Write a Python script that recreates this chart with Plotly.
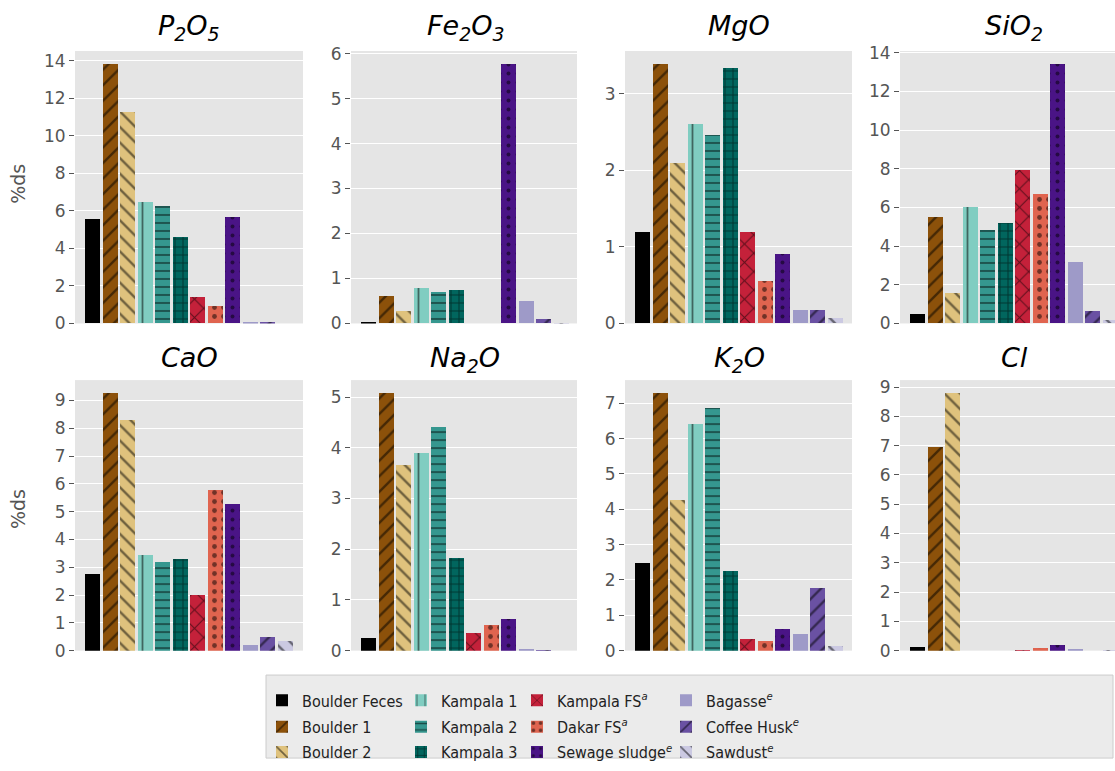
import plotly.graph_objects as go

W, H = 1115, 771

categories = ["Boulder Feces", "Boulder 1", "Boulder 2", "Kampala 1", "Kampala 2", "Kampala 3",
              "Kampala FS<sup><i>a</i></sup>", "Dakar FS<sup><i>a</i></sup>",
              "Sewage sludge<sup><i>e</i></sup>", "Bagasse<sup><i>e</i></sup>",
              "Coffee Husk<sup><i>e</i></sup>", "Sawdust<sup><i>e</i></sup>"]

panel_titles = ["P<sub>2</sub>O<sub>5</sub>", "Fe<sub>2</sub>O<sub>3</sub>", "MgO", "SiO<sub>2</sub>",
                "CaO", "Na<sub>2</sub>O", "K<sub>2</sub>O", "Cl"]

P2O5 = [5.55, 13.84, 11.27, 6.49, 6.28, 4.61, 1.41, 0.92, 5.70, 0.09, 0.10, 0.0]
Fe2O3 = [0.04, 0.62, 0.28, 0.78, 0.71, 0.74, 0.0, 0.0, 5.77, 0.51, 0.09, 0.01]
MgO = [1.20, 3.39, 2.09, 2.60, 2.46, 3.34, 1.19, 0.55, 0.91, 0.18, 0.17, 0.07]
SiO2 = [0.47, 5.53, 1.60, 6.00, 4.81, 5.19, 7.93, 6.68, 13.42, 3.17, 0.67, 0.17]
CaO = [2.76, 9.27, 8.28, 3.43, 3.17, 3.28, 2.01, 5.76, 5.27, 0.21, 0.47, 0.33]
Na2O = [0.25, 5.08, 3.66, 3.90, 4.41, 1.82, 0.34, 0.51, 0.62, 0.04, 0.01, 0.0]
K2O = [2.47, 7.29, 4.26, 6.42, 6.86, 2.24, 0.34, 0.26, 0.61, 0.48, 1.77, 0.12]
Cl = [0.11, 6.95, 8.80, 0.0, 0.0, 0.0, 0.01, 0.09, 0.20, 0.02, 0.0, 0.01]

panels = [P2O5, Fe2O3, MgO, SiO2, CaO, Na2O, K2O, Cl]
ydticks = [2, 1, 1, 2, 1, 1, 1, 1]

colors = ["#000000", "#8c510a", "#dfc27d", "#80cdc1", "#35978f", "#01665e",
          "#c4213a", "#e0644f", "#4a1486", "#9e9ac8", "#6a51a3", "#cbc9e2"]
patterns = [("", 8, 0.1), ("/", 11, 0.22), ("\\", 11, 0.22), ("|", 15, 0.12),
            ("-", 8, 0.22), ("+", 8, 0.22), ("x", 13, 0.16), (".", 9, 0.22),
            (".", 9, 0.15), ("", 8, 0.1), ("/", 11, 0.22), ("\\", 11, 0.22)]

# layout geometry (pixels)
col_px = [(75, 303), (351, 577), (625, 852), (900, 1115)]
full_w = 228
row_px = [(44, 323), (381, 658)]
title_top = [0, 340]
ylabel_center = [180, 513]
xr0, xr1 = -1.0175, 12.0175
units = xr1 - xr0

fig = go.Figure()

leg_names = ["legend"] + ["legend%d" % (k + 1) for k in range(1, 12)]

for p, vals in enumerate(panels):
    r, c = divmod(p, 4)
    ax = "" if p == 0 else str(p + 1)
    for i, v in enumerate(vals):
        shape, size, sol = patterns[i]
        fig.add_trace(go.Bar(
            x=[i], y=[v], width=0.85, name=categories[i],
            marker=dict(color=colors[i], line=dict(width=0),
                        pattern=dict(shape=shape, fgcolor="black", size=size, solidity=sol)),
            xaxis="x" + ax, yaxis="y" + ax,
            legendgroup=categories[i], showlegend=(p == 0),
            legend=leg_names[i], hoverinfo="skip",
        ))
    x0, x1 = col_px[c]
    y0, y1 = row_px[r]
    w = x1 - x0
    xrange = [xr0, xr0 + units * w / full_w]
    fig.layout["xaxis" + ax] = dict(domain=[x0 / W, x1 / W], range=xrange, showticklabels=False,
                                    ticks="", showgrid=False, zeroline=False, anchor="y" + ax)
    fig.layout["yaxis" + ax] = dict(domain=[1 - y1 / H, 1 - y0 / H], range=[0, max(vals) * 1.05],
                                    dtick=ydticks[p], tick0=0, ticks="outside", ticklen=5,
                                    tickcolor="#555555", tickwidth=1,
                                    tickfont=dict(size=17, color="#555555"),
                                    gridcolor="white", gridwidth=1.3, zeroline=False,
                                    showline=False, anchor="x" + ax)
    cx = (x0 + x0 + full_w) / 2
    fig.add_annotation(text="<i>" + panel_titles[p] + "</i>", x=cx / W, y=1 - title_top[r] / H,
                       xref="paper", yref="paper", showarrow=False, xanchor="center",
                       yanchor="top", font=dict(size=27, color="black"))

for yc in ylabel_center:
    fig.add_annotation(text="%ds", x=18 / W, y=1 - yc / H, xref="paper", yref="paper",
                       showarrow=False, textangle=-90, xanchor="center", yanchor="middle",
                       font=dict(size=19, color="#555555"))

# legend box
fig.add_shape(type="rect", xref="paper", yref="paper", x0=266 / W, x1=1113 / W,
              y0=1 - 768 / H, y1=1 - 683 / H, fillcolor="#ebebeb",
              line=dict(color="#cccccc", width=1), layer="below")

text_starts = [303, 442, 558, 707]
row_centers = [700, 727, 753]
legs = {}
for i, name in enumerate(leg_names):
    col, row = divmod(i, 3)
    legs[name] = dict(bgcolor="rgba(0,0,0,0)",
                      font=dict(size=16, color="#222222",
                                family="DejaVu Sans Condensed, Liberation Sans Narrow, DejaVu Sans"),
                      yanchor="middle", xanchor="left", orientation="v",
                      x=(text_starts[col] - 41) / W, y=1 - (row_centers[row] + 9) / H)

fig.update_layout(width=W, height=H, margin=dict(l=0, r=0, t=0, b=0),
                  plot_bgcolor="#E5E5E5", paper_bgcolor="white",
                  font=dict(family="DejaVu Sans"), bargap=0, barmode="overlay",
                  **legs)

fig.write_html("out.html", config={"displayModeBar": False},
               post_script="document.body.style.margin='0px';document.body.style.overflow='hidden';")
